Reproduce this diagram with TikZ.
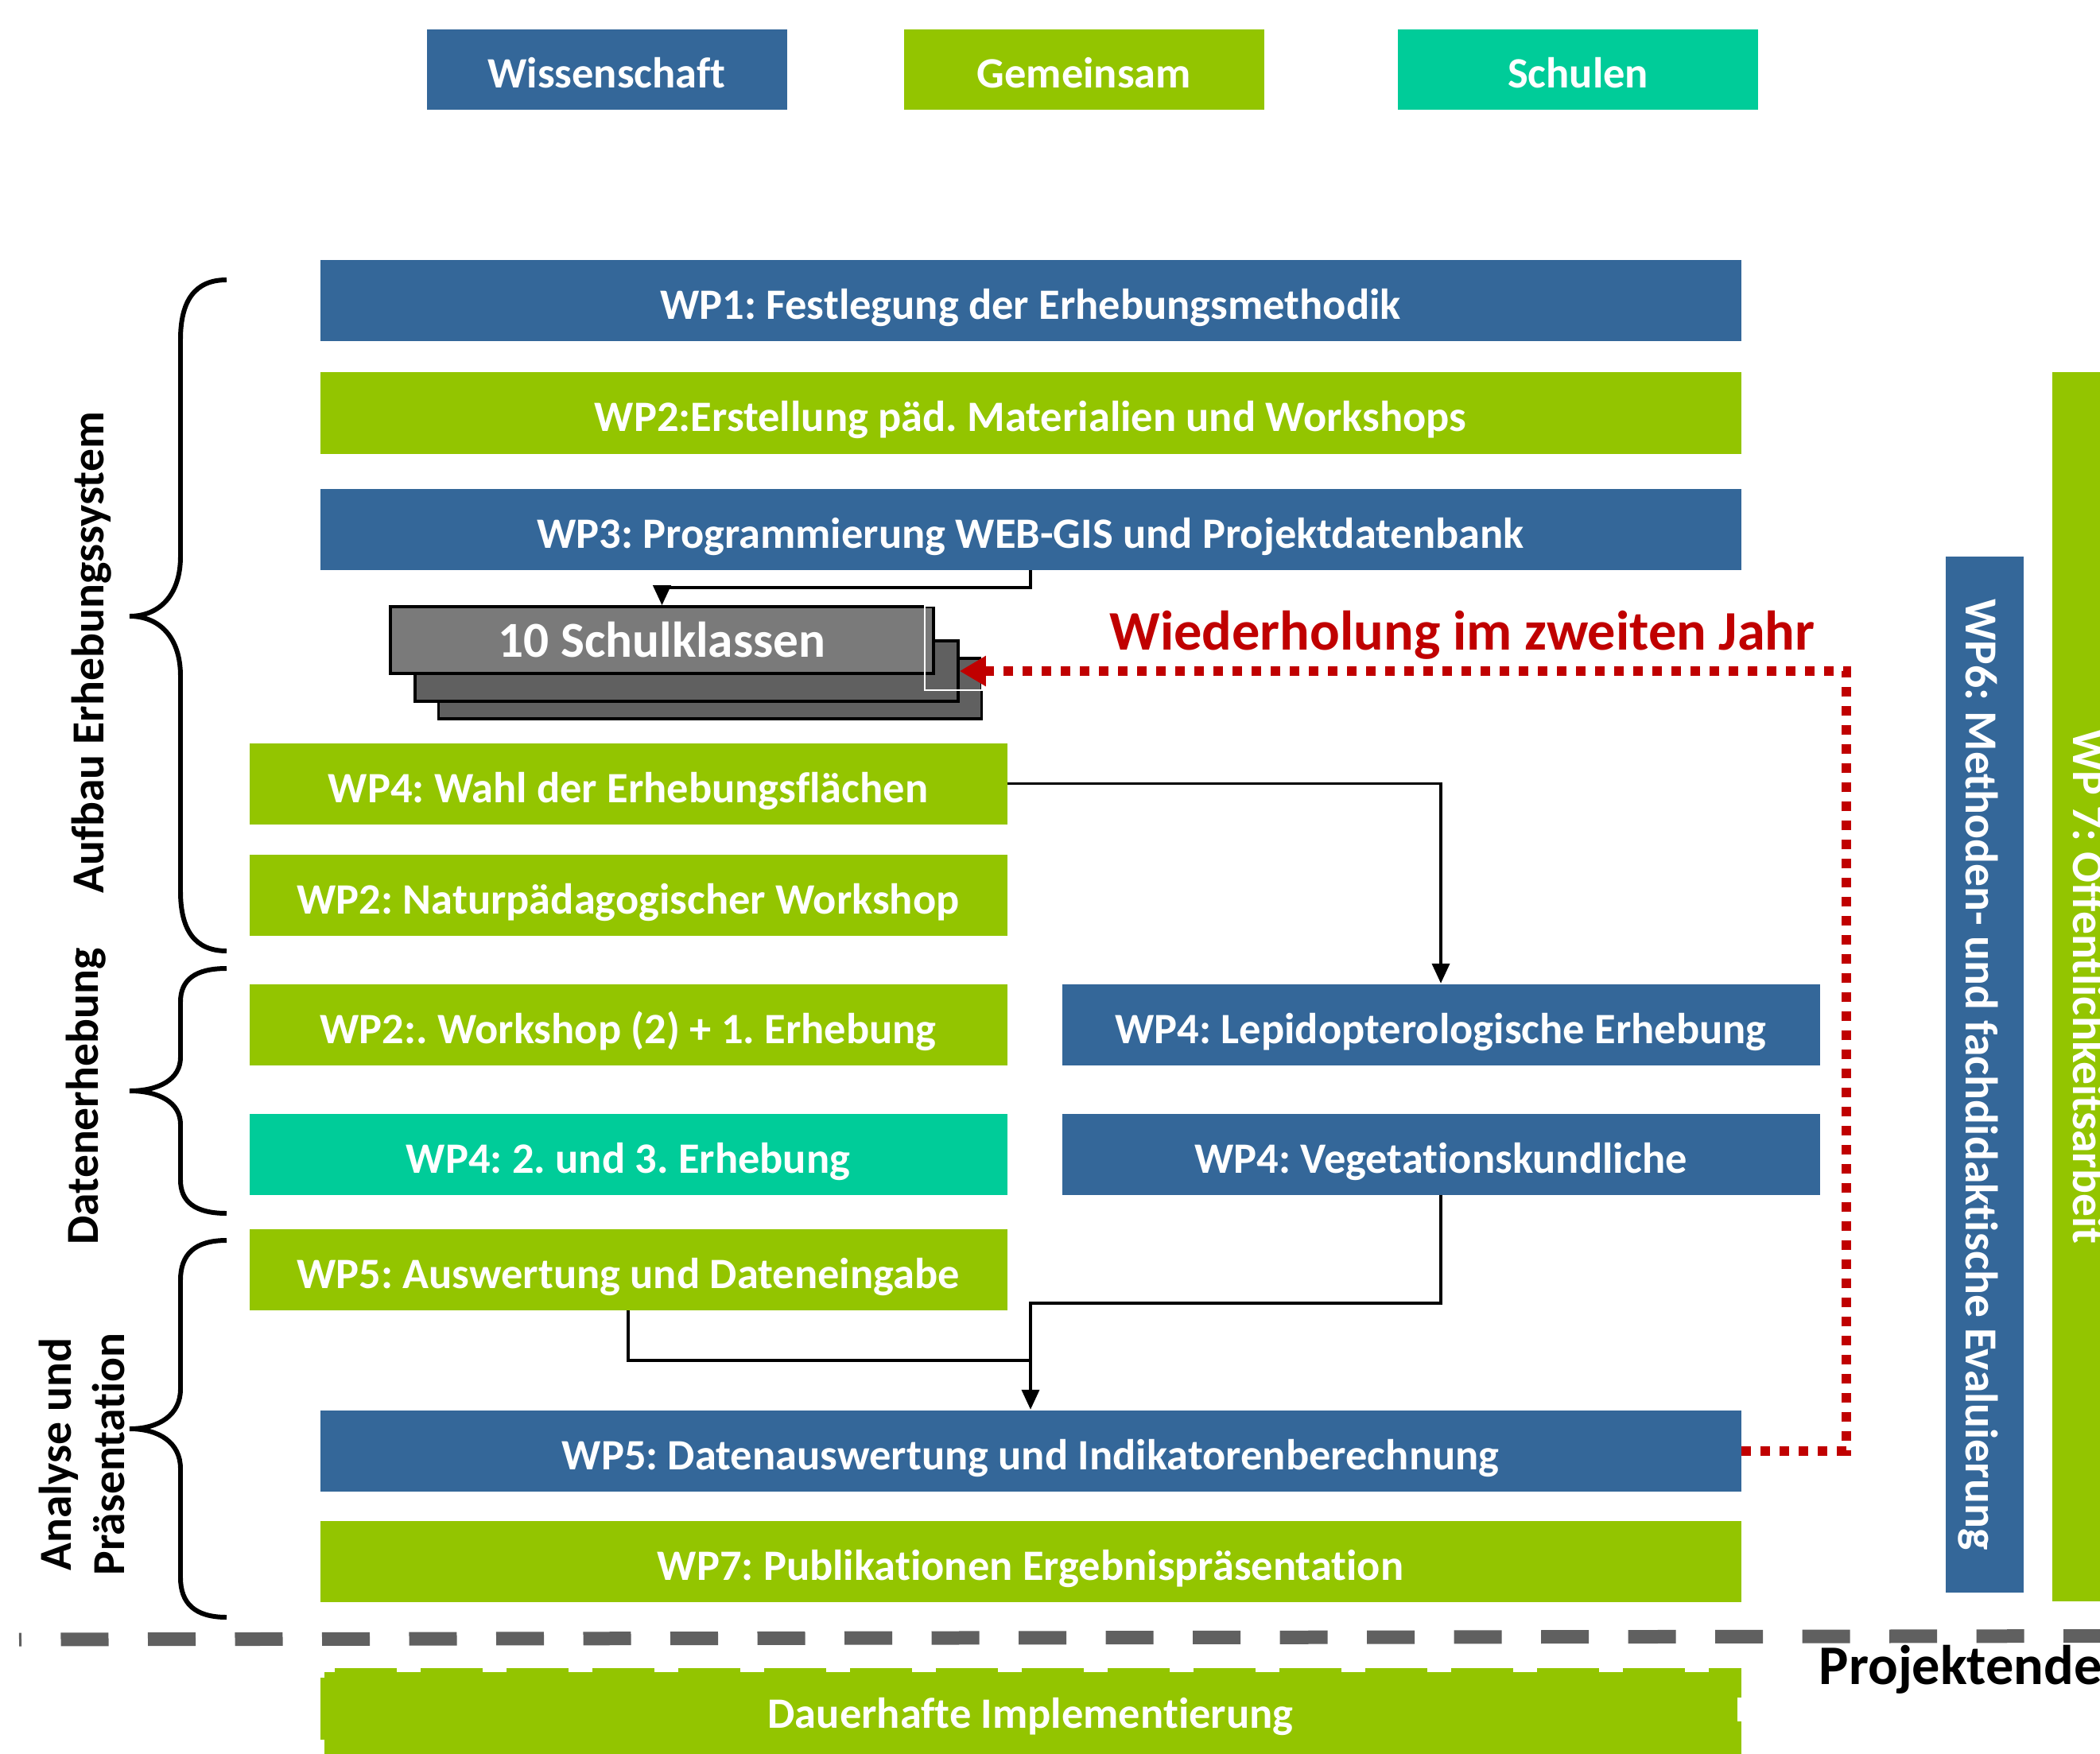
\documentclass[tikz,border=0pt]{standalone}
\usepackage{fontspec}
\setmainfont{Carlito}[Ligatures=NoCommon]
\frenchspacing
\usetikzlibrary{arrows.meta}
\definecolor{wpblue}{RGB}{52,103,153}
\definecolor{wpgreen}{RGB}{147,197,0}
\definecolor{wpteal}{RGB}{0,204,153}
\definecolor{wpred}{RGB}{192,0,0}
\definecolor{wpdash}{RGB}{96,96,96}
\definecolor{skfront}{RGB}{122,122,122}
\definecolor{skback}{RGB}{96,96,96}
\newcommand{\phasebrace}[4]{%
  \draw[bracket] (2.85,#1) .. controls (2.45,#1) and (2.27,{#1-0.35*#4}) .. (2.27,{#1-#4})
    -- (2.27,{#2+#4}) .. controls (2.27,{#2+0.35*#4}) and (2.0,#2) .. (1.63,#2)
    .. controls (2.0,#2) and (2.27,{#2-0.35*#4}) .. (2.27,{#2-#4})
    -- (2.27,{#3+#4}) .. controls (2.27,{#3+0.35*#4}) and (2.45,#3) .. (2.85,#3);}

\begin{document}
\begin{tikzpicture}[
  wp/.style={inner sep=0pt, text=white, text height=0.6cm, text depth=0.13cm, font=\fontsize{15.5}{18}\selectfont\bfseries},
  sci/.style={wp, fill=wpblue},
  joint/.style={wp, fill=wpgreen},
  school/.style={wp, fill=wpteal},
  legend/.style={minimum width=4.53cm, minimum height=1.01cm},
  wide/.style={minimum width=17.87cm, minimum height=1.02cm},
  half/.style={minimum width=9.53cm, minimum height=1.02cm},
  upright/.style={rotate=-90, minimum height=0.98cm, font=\fontsize{16.4}{19}\selectfont\bfseries},
  sheet/.style={draw=black, line width=1pt, inner sep=0pt, minimum width=6.83cm},
  flow/.style={line width=1.1pt, -{Triangle[width=0.22cm,length=0.25cm]}},
  again/.style={wpred, line width=0.12cm, dash pattern=on 0.12cm off 0.12cm, -{Triangle[width=0.36cm,length=0.33cm]}},
  bracket/.style={line width=1.7pt},
  phase/.style={rotate=90, align=center, font=\fontsize{16.4}{19}\selectfont\bfseries},
  note/.style={inner sep=0pt, font=\fontsize{20}{23}\selectfont\bfseries}]
  \useasboundingbox (0,0) rectangle (26.41,-22.06);
  \clip (0,0) rectangle (26.41,-22.06);

  \node[sci, legend] (legsci) at (7.63,-0.875) {Wissenschaft};
  \node[joint, legend] (legjoint) at (13.635,-0.875) {Gemeinsam};
  \node[school, legend] (legschool) at (19.845,-0.875) {Schulen};

  \node[sci, wide] (wp1) at (12.96,-3.785) {WP1: Festlegung der Erhebungsmethodik};
  \node[joint, wide] (wp2) at (12.96,-5.195) {WP2:Erstellung päd. Materialien und Workshops};
  \node[sci, wide] (wp3) at (12.96,-6.655) {WP3: Programmierung WEB-GIS und Projektdatenbank};
  \node[sheet, fill=skback, minimum height=0.76cm] (sk3) at (8.93,-8.66) {};
  \node[sheet, fill=skback, minimum height=0.76cm] (sk2) at (8.635,-8.44) {};
  \node[sheet, fill=skfront, minimum height=0.84cm, text=white, font=\fontsize{18}{21}\selectfont\bfseries] (sk1) at (8.325,-8.05) {10 Schulklassen};
  \node[joint, half] (wp4a) at (7.90,-9.855) {WP4: Wahl der Erhebungsflächen};
  \node[joint, half] (wp2b) at (7.90,-11.255) {WP2: Naturpädagogischer Workshop};
  \node[joint, half] (wp2c) at (7.90,-12.885) {WP2:. Workshop (2) + 1. Erhebung};
  \node[school, half] (wp4b) at (7.90,-14.515) {WP4: 2. und 3. Erhebung};
  \node[joint, half] (wp5a) at (7.90,-15.965) {WP5: Auswertung und Dateneingabe};
  \node[sci, half] (wp4c) at (18.12,-12.885) {WP4: Lepidopterologische Erhebung};
  \node[sci, half] (wp4d) at (18.12,-14.515) {WP4: Vegetationskundliche};
  \node[sci, wide] (wp5b) at (12.96,-18.245) {WP5: Datenauswertung und Indikatorenberechnung};
  \node[joint, wide] (wp7a) at (12.96,-19.635) {WP7: Publikationen Ergebnispräsentation};
  \node[sci, upright, minimum width=13.03cm] (wp6) at (24.96,-13.515) {WP6: Methoden- und fachdidaktische Evaluierung};
  \node[joint, upright, minimum width=15.46cm, minimum height=1.0cm] (wp7b) at (26.31,-12.41) {WP 7: Öffentlichkeitsarbeit};
  \node[joint, minimum width=17.87cm, minimum height=1.16cm, text depth=0.26cm, draw=white, line width=0.1cm, dash pattern=on 0.3cm off 0.78cm] (wp8) at (12.96,-21.56) {Dauerhafte Implementierung};

  \draw[wpdash, line width=0.17cm, dash pattern=on 0.6cm off 0.495cm, dash phase=0.57cm] (0.24,-20.62) -- (26.6,-20.575);
  \node[note, anchor=base west] (end) at (22.87,-21.18) {Projektende};
  \node[note, text=wpred, anchor=base] (repeat) at (18.39,-8.17) {Wiederholung im zweiten Jahr};

  \phasebrace{-3.52}{-7.75}{-11.96}{0.75}
  \phasebrace{-12.18}{-13.72}{-15.26}{0.42}
  \phasebrace{-15.60}{-17.97}{-20.34}{0.5}
  \node[phase] (ph1) at (1.15,-8.21) {Aufbau Erhebungssystem};
  \node[phase] (ph2) at (1.08,-13.79) {Datenerhebung};
  \node[phase] (ph3) at (1.03,-18.29) {Analyse und\\Präsentation};

  \coordinate (turn) at (23.22,-8.44);
  \coordinate (join) at (12.96,-17.11);
  \draw[flow] (wp3.south) -- ++(0,-0.22) -| (sk1.north);
  \draw[flow] (wp4a.east) -| (wp4c.north);
  \draw[flow] (wp4d.south) -- ++(0,-1.36) -| (wp5b.north);
  \draw[line width=1.1pt] (wp5a.south) |- (join);
  \draw[white, line width=0.5pt] (11.63,-7.62) rectangle (12.35,-8.68);
  \draw[again] (wp5b.east) -| (turn) -- (sk2.east);
\end{tikzpicture}
\end{document}
